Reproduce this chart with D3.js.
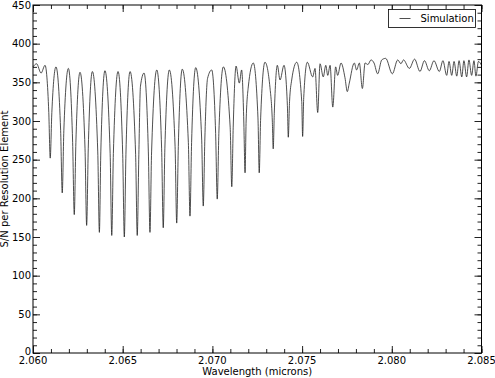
<!DOCTYPE html>
<html>
<head>
<meta charset="utf-8">
<script src="https://cdn.jsdelivr.net/npm/d3@7"></script>
<style>
  body { margin: 0; background: #fff; }
  svg { display: block; font-family: "DejaVu Sans", sans-serif; }
</style>
</head>
<body>
<svg id="chart"></svg>
<script>
const width = 495;
const height = 378;
const margin = { top: 5, right: 13.5, bottom: 25, left: 33 };

// simulated spectrum (microns, S/N)
const wavelength = [
  2.06000, 2.06020, 2.06045, 2.06067, 2.06088, 2.06096, 2.06105, 2.06128,
  2.06154, 2.06163, 2.06172, 2.06197, 2.06221, 2.06230, 2.06239, 2.06262,
  2.06290, 2.06299, 2.06308, 2.06331, 2.06361, 2.06370, 2.06378, 2.06401,
  2.06430, 2.06439, 2.06448, 2.06474, 2.06500, 2.06509, 2.06518, 2.06541,
  2.06572, 2.06581, 2.06590, 2.06599, 2.06619, 2.06643, 2.06652, 2.06661,
  2.06690, 2.06717, 2.06726, 2.06735, 2.06760, 2.06792, 2.06801, 2.06810,
  2.06832, 2.06866, 2.06875, 2.06884, 2.06907, 2.06940, 2.06949, 2.06958,
  2.06973, 2.06996, 2.07018, 2.07027, 2.07036, 2.07061, 2.07099, 2.07108,
  2.07116, 2.07132, 2.07150, 2.07163, 2.07175, 2.07182, 2.07188, 2.07200,
  2.07228, 2.07254, 2.07261, 2.07269, 2.07293, 2.07321, 2.07334, 2.07339,
  2.07345, 2.07362, 2.07377, 2.07399, 2.07418, 2.07423, 2.07430, 2.07442,
  2.07470, 2.07498, 2.07503, 2.07509, 2.07529, 2.07559, 2.07572, 2.07587,
  2.07600, 2.07618, 2.07632, 2.07643, 2.07656, 2.07671, 2.07687, 2.07698,
  2.07717, 2.07739, 2.07752, 2.07763, 2.07791, 2.07804, 2.07819, 2.07836,
  2.07851, 2.07867, 2.07884, 2.07901, 2.07921, 2.07944, 2.07966, 2.08003,
  2.08033, 2.08051, 2.08065, 2.08098, 2.08127, 2.08157, 2.08182, 2.08209,
  2.08235, 2.08265, 2.08285, 2.08306, 2.08319, 2.08334, 2.08347, 2.08362,
  2.08375, 2.08390, 2.08402, 2.08417, 2.08430, 2.08445, 2.08458, 2.08469,
  2.08483, 2.08500
];
const snr = [
  370, 374, 362, 372, 311, 252, 311, 370,
  288, 207, 288, 368, 272, 179, 272, 363,
  264, 165, 264, 364, 260, 156, 260, 365,
  258, 152, 258, 364, 257, 150, 257, 364,
  257, 152, 257, 345, 362, 260, 156, 260,
  366, 264, 162, 264, 366, 267, 168, 267,
  367, 272, 177, 272, 369, 278, 190, 278,
  355, 366, 284, 199, 284, 370, 292, 215,
  292, 371, 349, 366, 300, 233, 300, 344,
  375, 304, 233, 304, 376, 343, 300, 264,
  310, 372, 353, 372, 320, 279, 325, 353,
  376, 325, 280, 330, 376, 357, 368, 311,
  374, 357, 372, 359, 372, 318, 370, 359,
  375, 356, 338, 349, 375, 366, 375, 342,
  375, 373, 379, 375, 361, 379, 381, 361,
  379, 374, 379, 368, 380, 364, 378, 365,
  378, 364, 378, 359, 377, 359, 377, 358,
  378, 357, 378, 357, 379, 359, 378, 358,
  377, 372
];

const xDomain = [2.060, 2.085];
const yDomain = [0, 450];
const xMajor = [2.060, 2.065, 2.070, 2.075, 2.080, 2.085];
const yMajor = [0, 50, 100, 150, 200, 250, 300, 350, 400, 450];
const seriesName = "Simulation";

const points = wavelength.map((w, i) => ({ w: w, v: snr[i] }));

const svg = d3.select("#chart").attr("width", width).attr("height", height);

const x = d3.scaleLinear().domain(xDomain).range([margin.left, width - margin.right]);
const y = d3.scaleLinear().domain(yDomain).range([height - margin.bottom, margin.top]);

const xMinor = d3.range(0, 26).map(i => 2.060 + i * 0.001);
const yMinor = d3.range(0, 46).map(i => i * 10);

const fmtX = d3.format(".3f");
const tickCol = "#222";

// inward ticks on all four sides, labels drawn separately
function drawTicks(axisFn, scale, ticks, size, transform) {
  const a = axisFn(scale).tickValues(ticks).tickSizeInner(size).tickSizeOuter(0).tickFormat("");
  const g = svg.append("g").attr("transform", transform).call(a);
  g.select(".domain").remove();
  g.selectAll("line").attr("stroke", tickCol);
  return g;
}

const bottomY = height - margin.bottom;
const rightX = width - margin.right;

// bottom
drawTicks(d3.axisTop, x, xMinor, 4, `translate(0,${bottomY})`);
drawTicks(d3.axisTop, x, xMajor, 7, `translate(0,${bottomY})`);
svg.append("g").selectAll("text").data(xMajor).join("text")
  .attr("x", d => x(d)).attr("y", bottomY + 11)
  .attr("text-anchor", "middle").attr("font-size", 10)
  .text(d => fmtX(d));
// top
drawTicks(d3.axisBottom, x, xMinor, 4, `translate(0,${margin.top})`);
drawTicks(d3.axisBottom, x, xMajor, 7, `translate(0,${margin.top})`);
// left (the zero label sits a touch higher, as in the original)
drawTicks(d3.axisRight, y, yMinor, 4, `translate(${margin.left},0)`);
drawTicks(d3.axisRight, y, yMajor, 7, `translate(${margin.left},0)`);
svg.append("g").selectAll("text").data(yMajor).join("text")
  .attr("x", margin.left - 2).attr("y", d => y(d) + (d === 0 ? 1.5 : 3.5))
  .attr("text-anchor", "end").attr("font-size", 10)
  .text(d => d);
// right
drawTicks(d3.axisLeft, y, yMinor, 4, `translate(${rightX},0)`);
drawTicks(d3.axisLeft, y, yMajor, 7, `translate(${rightX},0)`);

// the spectrum
const line = d3.line()
  .x(d => x(d.w))
  .y(d => y(d.v))
  .curve(d3.curveMonotoneX);

svg.append("path")
  .datum(points)
  .attr("fill", "none")
  .attr("stroke", "#222")
  .attr("stroke-width", 0.8)
  .attr("d", line);

// frame
svg.append("rect")
  .attr("x", margin.left).attr("y", margin.top)
  .attr("width", rightX - margin.left).attr("height", bottomY - margin.top)
  .attr("fill", "none").attr("stroke", "#000").attr("stroke-width", 1);

// legend
const lg = svg.append("g").attr("transform", "translate(388.5,9.5)");
lg.append("rect").attr("width", 87).attr("height", 18)
  .attr("fill", "#fff").attr("stroke", "#000").attr("stroke-width", 0.8);
lg.append("line").attr("x1", 11).attr("x2", 22).attr("y1", 9).attr("y2", 9)
  .attr("stroke", "#222").attr("stroke-width", 0.8);
lg.append("text").attr("x", 32).attr("y", 12.5).attr("font-size", 10).text(seriesName);

// axis titles
svg.append("text")
  .attr("x", (margin.left + rightX) / 2).attr("y", 375)
  .attr("text-anchor", "middle").attr("font-size", 10)
  .text("Wavelength (microns)");
svg.append("text")
  .attr("transform", `translate(8,${(margin.top + bottomY) / 2}) rotate(-90)`)
  .attr("text-anchor", "middle").attr("font-size", 10)
  .text("S/N per Resolution Element");
</script>
</body>
</html>
